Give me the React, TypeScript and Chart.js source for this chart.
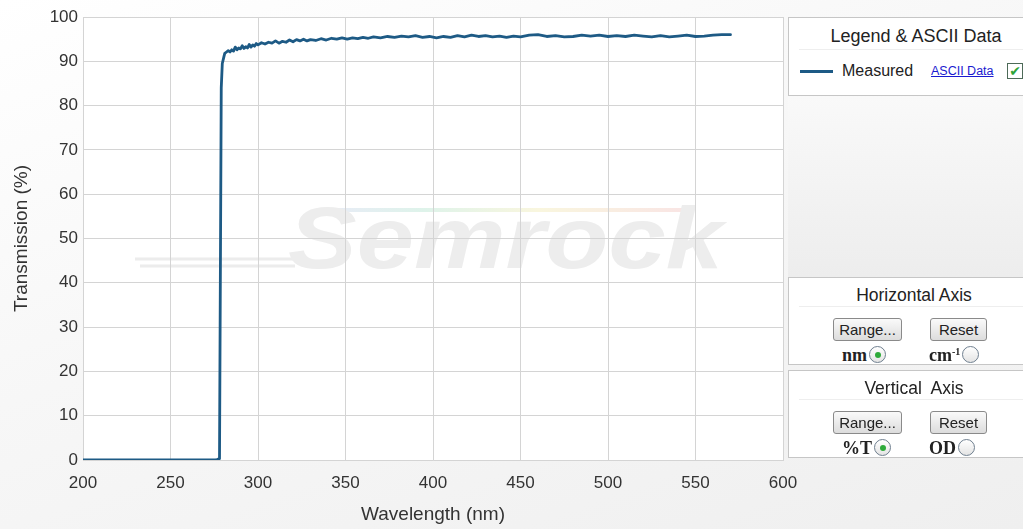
import React, { useEffect, useRef } from "react";
import { Chart, registerables } from "chart.js";

Chart.register(...registerables);

const wavelengths: number[] = [
  200, 220, 240, 260, 270, 276, 278, 279, 279.6, 280.5, 281, 282, 283, 284, 285, 286, 287, 288, 289,
  290, 291, 292, 293, 294, 295, 296, 297, 298, 299, 300, 302, 304, 306, 308, 310, 312, 314, 316, 318,
  320, 322, 324, 326, 328, 330, 333, 336, 339, 342, 345, 348, 351, 354, 357, 360, 363, 366, 370, 374,
  378, 382, 386, 390, 394, 398, 402, 406, 410, 414, 418, 422, 426, 430, 434, 438, 442, 446, 450, 455,
  460, 465, 470, 475, 480, 485, 490, 495, 500, 505, 510, 515, 520, 525, 530, 535, 540, 545, 550, 555,
  560, 565, 570,
];

const transmission: number[] = [
  0, 0, 0, 0, 0, 0, 0.3, 84, 89.5, 91, 91.8, 92.1, 92.4, 92.1, 92.6, 92.3, 93.2, 92.6, 93.0,
  92.8, 93.5, 92.9, 93.3, 93.0, 93.8, 93.2, 93.7, 93.4, 94.0, 93.7, 94.2, 93.9, 94.3, 94.1, 94.6, 94.1, 94.5, 94.3, 94.8,
  94.4, 94.9, 94.6, 95.0, 94.6, 94.9, 94.7, 95.1, 94.8, 95.2, 95.0, 95.3, 95.0, 95.3, 95.1, 95.4, 95.2, 95.5, 95.3, 95.6,
  95.4, 95.7, 95.5, 95.8, 95.4, 95.6, 95.3, 95.6, 95.4, 95.8, 95.5, 95.9, 95.6, 95.8, 95.5, 95.7, 95.4, 95.7, 95.5, 95.9,
  96.0, 95.6, 95.8, 95.5, 95.6, 95.9, 95.7, 95.9, 95.6, 95.8, 95.6, 95.9, 95.7, 95.5, 95.8, 95.5, 95.7, 95.9, 95.6, 95.7,
  95.9, 96.0, 96.0,
];

const xTitle = "Wavelength (nm)";
const yTitle = "Transmission (%)";
const seriesName = "Measured";
const watermark = "Semrock";

const FONT = "'Liberation Sans', Arial, sans-serif";
const SERIF = "'Liberation Serif', 'Times New Roman', serif";

const bgPlugin = {
  id: "bgPlugin",
  beforeDraw(chart: any) {
    const { ctx, chartArea } = chart;
    const { left, top, right, bottom } = chartArea;
    ctx.save();
    ctx.fillStyle = "#ffffff";
    ctx.fillRect(left, top, right - left, bottom - top);
    ctx.beginPath();
    ctx.rect(left, top, right - left, bottom - top);
    ctx.clip();
    ctx.strokeStyle = "#ececec";
    ctx.lineWidth = 3;
    ctx.beginPath();
    ctx.moveTo(135, 259);
    ctx.lineTo(300, 259);
    ctx.moveTo(140, 266);
    ctx.lineTo(295, 266);
    ctx.stroke();
    const grad = ctx.createLinearGradient(310, 0, 690, 0);
    grad.addColorStop(0, "rgba(220,220,245,0.6)");
    grad.addColorStop(0.3, "rgba(200,235,220,0.6)");
    grad.addColorStop(0.6, "rgba(245,240,200,0.6)");
    grad.addColorStop(1, "rgba(245,210,210,0.6)");
    ctx.fillStyle = grad;
    ctx.fillRect(320, 208, 370, 4);
    ctx.fillStyle = "#ededed";
    ctx.font = `italic bold 88px ${FONT}`;
    ctx.textBaseline = "alphabetic";
    const w = ctx.measureText(watermark).width;
    ctx.translate(288, 268);
    ctx.scale(435 / w, 1);
    ctx.fillText(watermark, 0, 0);
    ctx.restore();
  },
};

function Radio({ checked }: { checked: boolean }) {
  return (
    <span
      style={{
        display: "inline-block",
        width: 15,
        height: 15,
        borderRadius: "50%",
        border: "1px solid #6f7f8f",
        background: "linear-gradient(#ffffff,#e4e4e4)",
        position: "relative",
        verticalAlign: "-2px",
        marginLeft: 2,
      }}
    >
      {checked && (
        <span
          style={{
            position: "absolute",
            left: 4.5,
            top: 4.5,
            width: 6,
            height: 6,
            borderRadius: "50%",
            background: "#2eaa3a",
          }}
        />
      )}
    </span>
  );
}

function Btn({ label, left, top, width }: { label: string; left: number; top: number; width: number }) {
  return (
    <div
      style={{
        position: "absolute",
        left,
        top,
        width,
        height: 23,
        border: "1px solid #8a8a8a",
        borderRadius: 3,
        background: "linear-gradient(#fafafa,#dcdcdc)",
        fontFamily: FONT,
        fontSize: 15,
        color: "#222",
        textAlign: "center",
        lineHeight: "21px",
        boxSizing: "border-box",
      }}
    >
      {label}
    </div>
  );
}

function AxisBox({
  top,
  title,
  left1,
  left2,
  radio1,
  radio2,
}: {
  top: number;
  title: string;
  left1: React.ReactNode;
  left2: React.ReactNode;
  radio1: boolean;
  radio2: boolean;
}) {
  const labelStyle: React.CSSProperties = {
    position: "absolute",
    top: 67,
    fontFamily: SERIF,
    fontWeight: "bold",
    fontSize: 18,
    color: "#222",
    lineHeight: "20px",
    whiteSpace: "nowrap",
  };
  return (
    <div
      style={{
        position: "absolute",
        left: 3,
        top,
        width: 250,
        height: 88,
        background: "#ffffff",
        border: "1px solid #c6c6c6",
        boxSizing: "border-box",
      }}
    >
      <div
        style={{
          position: "absolute",
          left: 0,
          width: 254,
          top: 7,
          textAlign: "center",
          fontFamily: FONT,
          fontSize: 17.5,
          color: "#222",
          paddingRight: 4,
          boxSizing: "border-box",
          whiteSpace: "pre",
        }}
      >
        {title}
      </div>
      <div style={{ position: "absolute", left: 10, right: 10, top: 28, height: 1, background: "#eeeeee" }} />
      <Btn label="Range..." left={44} top={40} width={69} />
      <Btn label="Reset" left={141} top={40} width={57} />
      <div style={{ ...labelStyle, left: 53 }}>
        {left1}
        <Radio checked={radio1} />
      </div>
      <div style={{ ...labelStyle, left: 140 }}>
        {left2}
        <Radio checked={radio2} />
      </div>
    </div>
  );
}

export default function App() {
  const canvasRef = useRef<HTMLCanvasElement | null>(null);

  useEffect(() => {
    if (!canvasRef.current) return;
    const chart = new Chart(canvasRef.current, {
      type: "line",
      data: {
        datasets: [
          {
            label: seriesName,
            data: wavelengths.map((x, i) => ({ x, y: transmission[i] })),
            borderColor: "#1d5a85",
            borderWidth: 2.8,
            borderJoinStyle: "round",
            borderCapStyle: "round",
            pointRadius: 0,
            tension: 0,
            fill: false,
          },
        ],
      },
      options: {
        responsive: false,
        animation: false,
        layout: { padding: { left: 0, top: 17, right: 240, bottom: 0 } },
        plugins: {
          legend: { display: false },
          tooltip: { enabled: false },
          title: { display: false },
        },
        scales: {
          x: {
            type: "linear",
            min: 200,
            max: 600,
            ticks: {
              stepSize: 50,
              padding: 13,
              color: "#333",
              font: { family: FONT, size: 17 },
              maxRotation: 0,
            },
            grid: { color: "#d4d4d4", drawTicks: false, lineWidth: 1 },
            border: { display: true, color: "#d4d4d4" },
            title: {
              display: true,
              text: xTitle,
              color: "#333",
              font: { family: FONT, size: 19 },
              padding: { top: 0, bottom: 3 },
            },
            afterFit(scale: any) {
              scale.height = 69;
            },
          },
          y: {
            min: 0,
            max: 100,
            ticks: {
              stepSize: 10,
              padding: 5,
              color: "#333",
              font: { family: FONT, size: 17 },
            },
            grid: { color: "#d4d4d4", drawTicks: false, lineWidth: 1 },
            border: { display: true, color: "#d4d4d4" },
            title: {
              display: true,
              text: yTitle,
              color: "#333",
              font: { family: FONT, size: 19 },
              padding: { top: 10, bottom: 0 },
            },
            afterFit(scale: any) {
              scale.width = 83;
            },
          },
        },
      },
      plugins: [bgPlugin],
    });
    return () => chart.destroy();
  }, []);

  return (
    <div
      style={{
        position: "fixed",
        left: 0,
        top: 0,
        width: 1023,
        height: 529,
        overflow: "hidden",
        background: "linear-gradient(160deg, #ffffff 0%, #f7f7f7 45%, #efefef 100%)",
      }}
    >
      <canvas ref={canvasRef} width={1023} height={529} style={{ position: "absolute", left: 0, top: 0 }} />
      <div style={{ position: "absolute", left: 785, top: 0, width: 238, height: 529 }}>
        <div
          style={{
            position: "absolute",
            left: 3,
            top: 95,
            width: 250,
            height: 182,
            background: "linear-gradient(#f9f9f9,#ededed)",
          }}
        />
        <div
          style={{
            position: "absolute",
            left: 3,
            top: 17,
            width: 250,
            height: 79,
            background: "#ffffff",
            border: "1px solid #c6c6c6",
            boxSizing: "border-box",
          }}
        >
          <div
            style={{
              position: "absolute",
              left: 0,
              top: 8,
              width: 254,
              paddingRight: 0,
              boxSizing: "border-box",
              textAlign: "center",
              fontFamily: FONT,
              fontSize: 18,
              color: "#222",
              whiteSpace: "nowrap",
            }}
          >
            Legend &amp; ASCII Data
          </div>
          <div style={{ position: "absolute", left: 10, right: 0, top: 31, height: 1, background: "#eeeeee" }} />
          <div style={{ position: "absolute", left: 11, top: 52, width: 33, height: 3, background: "#1d5a85" }} />
          <div
            style={{
              position: "absolute",
              left: 53,
              top: 44,
              fontFamily: FONT,
              fontSize: 16,
              color: "#222",
            }}
          >
            {seriesName}
          </div>
          <div
            style={{
              position: "absolute",
              left: 142,
              top: 46,
              fontFamily: FONT,
              fontSize: 12.5,
              color: "#1a1ad0",
              textDecoration: "underline",
              whiteSpace: "nowrap",
            }}
          >
            ASCII Data
          </div>
          <div
            style={{
              position: "absolute",
              left: 218,
              top: 45,
              width: 16,
              height: 16,
              border: "1px solid #4d6a58",
              background: "#fff",
              boxSizing: "border-box",
              color: "#2ea43a",
              fontSize: 14,
              lineHeight: "14px",
              textAlign: "center",
              fontFamily: "'DejaVu Sans', sans-serif",
              fontWeight: "bold",
            }}
          >
            ✔
          </div>
        </div>
        <AxisBox
          top={277}
          title="Horizontal Axis"
          left1="nm"
          left2={
            <span>
              cm<span style={{ fontSize: 10, position: "relative", top: -6 }}>-1</span>
            </span>
          }
          radio1={true}
          radio2={false}
        />
        <AxisBox top={370} title="Vertical  Axis" left1="%T" left2="OD" radio1={true} radio2={false} />
      </div>
    </div>
  );
}
